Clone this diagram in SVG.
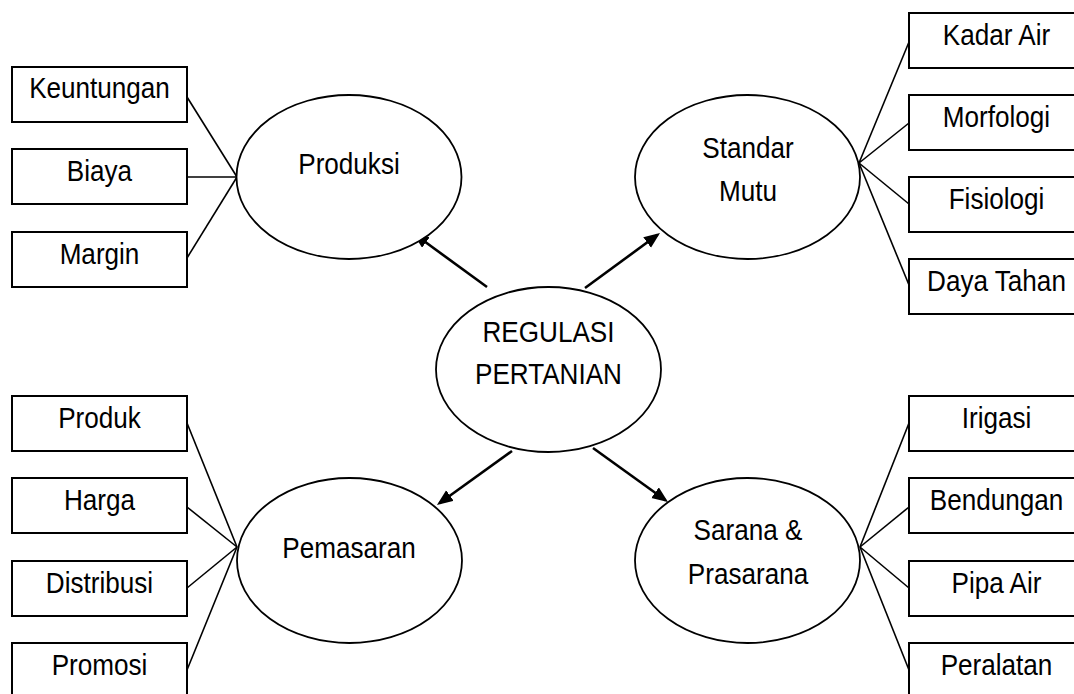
<svg xmlns="http://www.w3.org/2000/svg" width="1074" height="694" viewBox="0 0 1074 694">
<defs>
<style>
.box{fill:#fff;stroke:#000;stroke-width:2}
.ell{fill:#fff;stroke:#000;stroke-width:1.8}
.t{font-family:"Liberation Sans",Arial,sans-serif;font-size:30px;fill:#000;text-anchor:middle}
.ln{stroke:#000;stroke-width:1.6;fill:none}
.ar{stroke:#000;stroke-width:2.6;fill:none;marker-end:url(#ah)}
</style>
<marker id="ah" markerUnits="userSpaceOnUse" markerWidth="18" markerHeight="14" refX="13" refY="6.5" orient="auto">
<path d="M0,0 L16,6.5 L0,13 z" fill="#000"/>
</marker>
</defs>
<rect width="1074" height="694" fill="#fff"/>
<g id="connectors">
<line class="ln" x1="187" y1="97" x2="237" y2="177"/>
<line class="ln" x1="187" y1="177" x2="237" y2="177"/>
<line class="ln" x1="187" y1="258" x2="237" y2="177"/>
<line class="ln" x1="859" y1="163" x2="909" y2="42"/>
<line class="ln" x1="859" y1="163" x2="909" y2="123"/>
<line class="ln" x1="859" y1="163" x2="909" y2="204"/>
<line class="ln" x1="859" y1="163" x2="909" y2="285"/>
<line class="ln" x1="237" y1="547" x2="187" y2="423"/>
<line class="ln" x1="237" y1="547" x2="187" y2="507"/>
<line class="ln" x1="237" y1="547" x2="187" y2="588"/>
<line class="ln" x1="237" y1="547" x2="187" y2="670"/>
<line class="ln" x1="860" y1="547" x2="909" y2="423"/>
<line class="ln" x1="860" y1="547" x2="909" y2="507"/>
<line class="ln" x1="860" y1="547" x2="909" y2="588"/>
<line class="ln" x1="860" y1="547" x2="909" y2="670"/>
<line class="ar" x1="487" y1="287" x2="415.4" y2="234.8"/>
<line class="ar" x1="585" y1="288" x2="657.6" y2="234.8"/>
<line class="ar" x1="512" y1="451" x2="439.4" y2="503.2"/>
<line class="ar" x1="593" y1="448" x2="665.6" y2="500.2"/>
</g>
<g id="n-keuntungan"><rect class="box" x="12" y="67" width="175" height="55"/><text class="t" transform="translate(99.5,98) scale(0.87,1)">Keuntungan</text></g>
<g id="n-biaya"><rect class="box" x="12" y="149" width="175" height="55"/><text class="t" transform="translate(99.5,181) scale(0.87,1)">Biaya</text></g>
<g id="n-margin"><rect class="box" x="12" y="232" width="175" height="55"/><text class="t" transform="translate(99.5,264) scale(0.87,1)">Margin</text></g>
<g id="n-produksi"><ellipse class="ell" cx="349" cy="177" rx="112.5" ry="82"/><text class="t" transform="translate(349,174) scale(0.87,1)">Produksi</text></g>
<g id="n-standar"><ellipse class="ell" cx="747.5" cy="177" rx="112.5" ry="82"/><text class="t" transform="translate(748,158) scale(0.87,1)">Standar</text><text class="t" transform="translate(748,201) scale(0.87,1)">Mutu</text></g>
<g id="n-kadar"><rect class="box" x="909" y="13" width="175" height="55"/><text class="t" transform="translate(996.5,45) scale(0.87,1)">Kadar Air</text></g>
<g id="n-morfologi"><rect class="box" x="909" y="95" width="175" height="55"/><text class="t" transform="translate(996.5,127) scale(0.87,1)">Morfologi</text></g>
<g id="n-fisiologi"><rect class="box" x="909" y="177" width="175" height="55"/><text class="t" transform="translate(996.5,209) scale(0.87,1)">Fisiologi</text></g>
<g id="n-daya"><rect class="box" x="909" y="259" width="175" height="55"/><text class="t" transform="translate(996.5,291) scale(0.87,1)">Daya Tahan</text></g>
<g id="n-regulasi"><ellipse class="ell" cx="548.5" cy="369.5" rx="112.5" ry="82.5"/><text class="t" transform="translate(548.5,342) scale(0.87,1)">REGULASI</text><text class="t" transform="translate(548.5,384) scale(0.87,1)">PERTANIAN</text></g>
<g id="n-produk"><rect class="box" x="12" y="396" width="175" height="55"/><text class="t" transform="translate(99.5,428) scale(0.87,1)">Produk</text></g>
<g id="n-harga"><rect class="box" x="12" y="478" width="175" height="55"/><text class="t" transform="translate(99.5,510) scale(0.87,1)">Harga</text></g>
<g id="n-distribusi"><rect class="box" x="12" y="561" width="175" height="55"/><text class="t" transform="translate(99.5,593) scale(0.87,1)">Distribusi</text></g>
<g id="n-promosi"><rect class="box" x="12" y="643" width="175" height="55"/><text class="t" transform="translate(99.5,675) scale(0.87,1)">Promosi</text></g>
<g id="n-pemasaran"><ellipse class="ell" cx="349.5" cy="560.5" rx="112.5" ry="82.5"/><text class="t" transform="translate(349,558) scale(0.87,1)">Pemasaran</text></g>
<g id="n-sarana"><ellipse class="ell" cx="747.5" cy="560.5" rx="112.5" ry="82.5"/><text class="t" transform="translate(748,540) scale(0.87,1)">Sarana &amp;</text><text class="t" transform="translate(748,584) scale(0.87,1)">Prasarana</text></g>
<g id="n-irigasi"><rect class="box" x="909" y="396" width="175" height="55"/><text class="t" transform="translate(996.5,428) scale(0.87,1)">Irigasi</text></g>
<g id="n-bendungan"><rect class="box" x="909" y="478" width="175" height="55"/><text class="t" transform="translate(996.5,510) scale(0.87,1)">Bendungan</text></g>
<g id="n-pipa"><rect class="box" x="909" y="561" width="175" height="55"/><text class="t" transform="translate(996.5,593) scale(0.87,1)">Pipa Air</text></g>
<g id="n-peralatan"><rect class="box" x="909" y="643" width="175" height="55"/><text class="t" transform="translate(996.5,675) scale(0.87,1)">Peralatan</text></g>
</svg>
